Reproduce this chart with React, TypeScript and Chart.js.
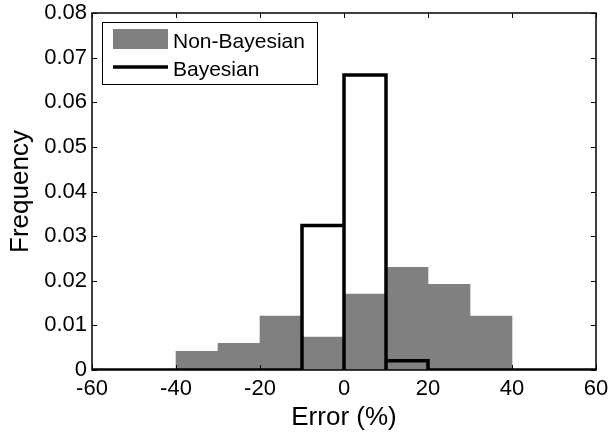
import React, { useEffect, useRef } from 'react';
import { Chart, registerables } from 'chart.js';

Chart.register(...registerables);

// ---- data ----
const binCenters = [-55, -45, -35, -25, -15, -5, 5, 15, 25, 35, 45, 55];
const binWidth = 10;
const nonBayesian = [0, 0, 0.0042, 0.006, 0.0121, 0.0074, 0.017, 0.023, 0.0192, 0.0121, 0, 0];
const bayesian = [0, 0, 0, 0, 0, 0.0324, 0.0661, 0.0021, 0, 0, 0, 0];
const xTickLabels = ['-60', '-40', '-20', '0', '20', '40', '60'];
const yTickLabels = ['0', '0.01', '0.02', '0.03', '0.04', '0.05', '0.06', '0.07', '0.08'];
const seriesLabels = ['Non-Bayesian', 'Bayesian'];
const xTitle = 'Error (%)';
const yTitle = 'Frequency';

const GRAY = '#808080';
const FONT = '"Liberation Sans", Arial, sans-serif';

const framePlugin = {
  id: 'matlabFrame',
  afterDatasetsDraw(chart: any) {
    const { ctx, chartArea, scales } = chart;
    const { left, right, top, bottom } = chartArea;
    const x = scales.x;
    const y = scales.y;
    ctx.save();
    ctx.strokeStyle = '#000';
    ctx.lineWidth = 1.5;
    ctx.strokeRect(left, top, right - left, bottom - top);
    ctx.lineWidth = 1;
    const tl = 5;
    ctx.beginPath();
    x.ticks.forEach((t: any) => {
      const px = Math.round(x.getPixelForValue(t.value)) + 0.5;
      ctx.moveTo(px, bottom);
      ctx.lineTo(px, bottom - tl);
      ctx.moveTo(px, top);
      ctx.lineTo(px, top + tl);
    });
    y.ticks.forEach((t: any) => {
      const py = Math.round(y.getPixelForValue(t.value)) + 0.5;
      ctx.moveTo(left, py);
      ctx.lineTo(left + tl, py);
      ctx.moveTo(right, py);
      ctx.lineTo(right - tl, py);
    });
    ctx.stroke();
    ctx.restore();
  },
  afterDraw(chart: any) {
    const { ctx, chartArea } = chart;
    const bx = chartArea.left + 10;
    const by = chartArea.top + 9;
    const bw = 215;
    const bh = 62;
    ctx.save();
    ctx.fillStyle = '#fff';
    ctx.fillRect(bx, by, bw, bh);
    ctx.strokeStyle = '#000';
    ctx.lineWidth = 1;
    ctx.strokeRect(bx + 0.5, by + 0.5, bw, bh);
    // swatch
    ctx.fillStyle = GRAY;
    ctx.fillRect(bx + 11, by + 7, 55, 20);
    // line
    ctx.strokeStyle = '#000';
    ctx.lineWidth = 3.5;
    ctx.beginPath();
    ctx.moveTo(bx + 11, by + 45);
    ctx.lineTo(bx + 66, by + 45);
    ctx.stroke();
    ctx.fillStyle = '#000';
    ctx.font = `21px ${FONT}`;
    ctx.textBaseline = 'alphabetic';
    ctx.textAlign = 'left';
    ctx.fillText(chart.data.datasets[0].label, bx + 71, by + 26);
    ctx.fillText(chart.data.datasets[1].label, bx + 71, by + 54);
    ctx.restore();
  },
};

export default function App() {
  const ref = useRef<HTMLCanvasElement | null>(null);

  useEffect(() => {
    document.body.style.margin = '0';
    const canvas = ref.current;
    if (!canvas) return;

    const bars = binCenters.map((c, i) => ({ x: c, y: nonBayesian[i] }));
    const outline: { x: number; y: number }[] = [];
    binCenters.forEach((c, i) => {
      const l = c - binWidth / 2;
      const r = c + binWidth / 2;
      const h = bayesian[i];
      outline.push({ x: l, y: 0 }, { x: l, y: h }, { x: r, y: h }, { x: r, y: 0 });
    });

    Chart.defaults.font.family = FONT;

    const chart = new Chart(canvas, {
      type: 'line',
      data: {
        datasets: [
          {
            type: 'bar',
            label: seriesLabels[0],
            data: bars as any,
            backgroundColor: GRAY,
            borderWidth: 0,
            barPercentage: 1,
            categoryPercentage: 1,
            order: 2,
          } as any,
          {
            type: 'line',
            label: seriesLabels[1],
            data: outline as any,
            borderColor: '#000',
            borderWidth: 3.5,
            pointRadius: 0,
            tension: 0,
            fill: false,
            borderJoinStyle: 'miter',
            order: 1,
          } as any,
        ],
      },
      options: {
        animation: false,
        responsive: false,
        maintainAspectRatio: false,
        layout: { padding: { top: 13, right: 12, left: 0, bottom: 0 } },
        plugins: {
          legend: { display: false },
          tooltip: { enabled: false },
        },
        scales: {
          x: {
            type: 'linear',
            min: -60,
            max: 60,
            offset: false,
            grid: { display: false, drawTicks: false },
            border: { display: false },
            ticks: {
              stepSize: 20,
              autoSkip: false,
              maxRotation: 0,
              padding: 6,
              color: '#000',
              font: { size: 22, family: FONT },
              callback: (_v: any, i: number) => xTickLabels[i],
            },
            title: {
              display: true,
              text: xTitle,
              color: '#000',
              font: { size: 26, family: FONT },
              padding: { top: 0, bottom: 0 },
            },
            afterFit: (s: any) => {
              s.height = 63;
              s.paddingLeft = 0;
              s.paddingRight = 0;
            },
          },
          y: {
            type: 'linear',
            min: 0,
            max: 0.08,
            grid: { display: false, drawTicks: false },
            border: { display: false },
            ticks: {
              stepSize: 0.01,
              padding: 5,
              color: '#000',
              font: { size: 22, family: FONT },
              callback: (_v: any, i: number) => yTickLabels[i],
            },
            title: {
              display: true,
              text: yTitle,
              color: '#000',
              font: { size: 26, family: FONT },
              padding: { top: 5, bottom: 0 },
            },
            afterFit: (s: any) => {
              s.width = 92;
              s.paddingTop = 0;
              s.paddingBottom = 0;
            },
          },
        },
      } as any,
      plugins: [framePlugin],
    });

    return () => chart.destroy();
  }, []);

  return (
    <div style={{ position: 'absolute', left: 0, top: 0, width: 608, height: 433, background: '#fff' }}>
      <canvas ref={ref} width={608} height={433} style={{ width: 608, height: 433, display: 'block' }} />
    </div>
  );
}
